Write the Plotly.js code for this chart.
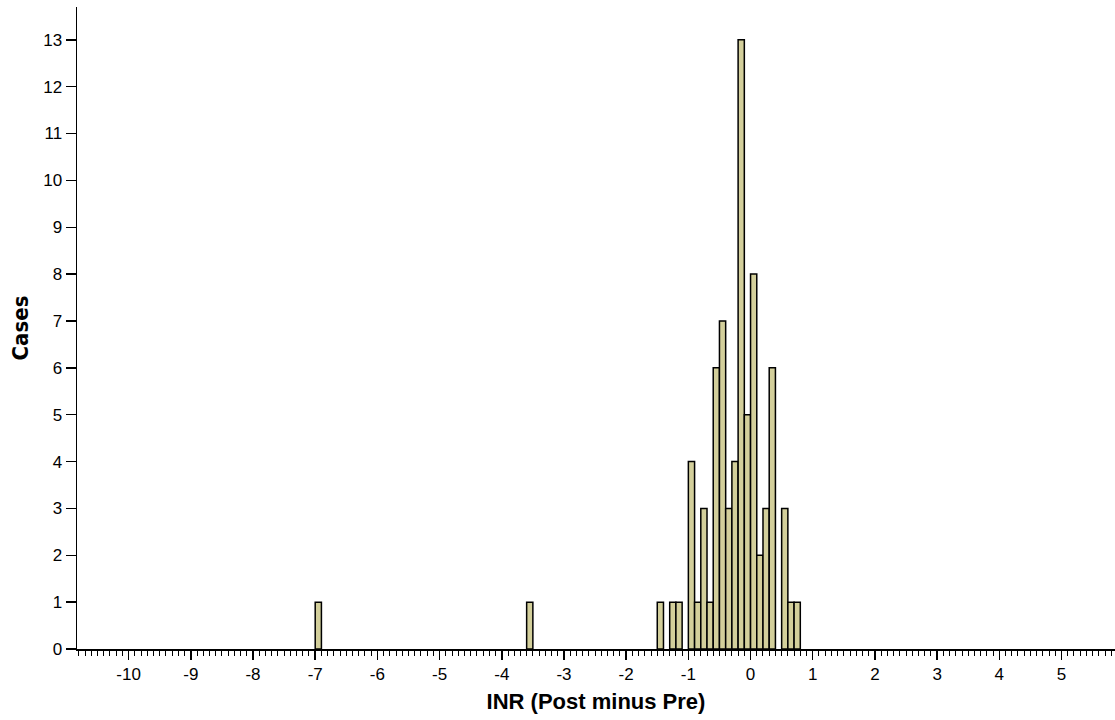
<!DOCTYPE html>
<html>
<head>
<meta charset="utf-8">
<script src="https://cdn.plot.ly/plotly-3.0.1.min.js"></script>
<style>html,body{margin:0;padding:0;background:#fff;}#chart{width:1115px;height:720px;}</style>
</head>
<body>
<div id="chart"></div>
<script>
// Histogram bins (width 0.1): bin centres of INR change and counts
var binCenters = [-6.95, -3.55, -1.45, -1.25, -1.15, -0.95, -0.85, -0.75, -0.65, -0.55, -0.45, -0.35, -0.25, -0.15, -0.05, 0.05, 0.15, 0.25, 0.35, 0.55, 0.65, 0.75];
var counts     = [1, 1, 1, 1, 1, 4, 1, 3, 1, 6, 7, 3, 4, 13, 5, 8, 2, 3, 6, 3, 1, 1];
var binWidth = 0.1;
var xTickVals = [-10, -9, -8, -7, -6, -5, -4, -3, -2, -1, 0, 1, 2, 3, 4, 5];
var xTickText = ['-10', '-9', '-8', '-7', '-6', '-5', '-4', '-3', '-2', '-1', '0', '1', '2', '3', '4', '5'];
var yTickVals = [0, 1, 2, 3, 4, 5, 6, 7, 8, 9, 10, 11, 12, 13];
var yTickText = ['0', '1', '2', '3', '4', '5', '6', '7', '8', '9', '10', '11', '12', '13'];

var trace = {
  type: 'bar',
  x: binCenters,
  y: counts,
  width: binCenters.map(function(){ return binWidth; }),
  marker: {color: '#d3cf9b', line: {color: '#000', width: 1.5}},
  hoverinfo: 'x+y'
};

var sans = 'Liberation Sans, Arial, sans-serif';
var layout = {
  width: 1115, height: 720,
  margin: {l: 77, r: 0, t: 7, b: 71},
  paper_bgcolor: '#fff', plot_bgcolor: '#fff',
  showlegend: false,
  font: {family: sans, color: '#000', size: 17},
  xaxis: {
    range: [-10.83, 5.86],
    tickmode: 'array', tickvals: xTickVals, ticktext: xTickText,
    ticks: 'outside', ticklen: 9, tickwidth: 1.5, tickcolor: '#000',
    minor: {dtick: 0.1, tick0: 0, ticks: 'outside', ticklen: 5, tickwidth: 1, tickcolor: '#000'},
    showline: true, linecolor: '#000', linewidth: 1.5,
    showgrid: false, zeroline: false,
    tickfont: {size: 17, family: sans},
    title: {text: 'INR (Post minus Pre)', font: {size: 22, family: sans, weight: 'bold'}, standoff: 10}
  },
  yaxis: {
    range: [0, 13.7],
    tickmode: 'array', tickvals: yTickVals, ticktext: yTickText,
    ticks: 'outside', ticklen: 10, tickwidth: 1.5, tickcolor: '#000',
    showline: true, linecolor: '#000', linewidth: 1.5,
    showgrid: false, zeroline: false,
    tickfont: {size: 17, family: sans},
    title: {text: 'Cases', font: {size: 22, family: 'Liberation Sans Narrow, Arial Narrow, DejaVu Sans Condensed, sans-serif', weight: 'bold'}, standoff: 8}
  },
  bargap: 0
};

Plotly.newPlot('chart', [trace], layout, {displayModeBar: false, staticPlot: true});
</script>
</body>
</html>
